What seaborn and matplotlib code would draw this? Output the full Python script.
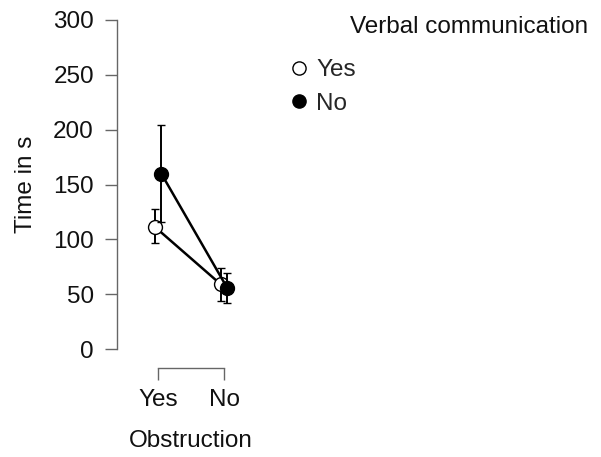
import numpy as np
import pandas as pd
import matplotlib
matplotlib.use("Agg")
import matplotlib.pyplot as plt
import seaborn as sns

obstruction = ["Yes", "No"]
verbal = ["Yes", "No"]
mean_yes = [111.5, 59.0]     # verbal communication: Yes
mean_no = [160.0, 55.5]      # verbal communication: No
lo_yes = [96.5, 44.0]
hi_yes = [127.5, 74.0]
lo_no = [116.0, 42.0]
hi_no = [204.0, 69.5]
yticks = [0, 50, 100, 150, 200, 250, 300]

sns.set_theme(style="white")
plt.rcParams["font.family"] = ["Liberation Sans", "DejaVu Sans"]

FS = 17.5

df = pd.DataFrame({
    "Obstruction": obstruction * 2,
    "Verbal": [verbal[0]] * 2 + [verbal[1]] * 2,
    "Time": mean_yes + mean_no,
})

fig = plt.figure(figsize=(6.01, 4.57), dpi=100)
W, H = 601, 457
ax = fig.add_axes([117 / W, 1 - 349 / H, (265 - 117) / W, (349 - 20) / H])

sns.pointplot(data=df, x="Obstruction", y="Time", hue="Verbal",
              order=obstruction, hue_order=verbal,
              palette=["white", "black"], dodge=0.1, errorbar=None,
              markers="o", linestyles="-", ax=ax, legend=False,
              markersize=10, linewidth=1.8)

lines = [l for l in ax.lines if len(l.get_xdata()) == 2]
los = [lo_yes, lo_no]
his = [hi_yes, hi_no]
means = [mean_yes, mean_no]
for i, ln in enumerate(lines):
    ln.set_color("black")
    ln.set_markeredgecolor("black")
    ln.set_markerfacecolor(["white", "black"][i])
    ln.set_markeredgewidth(1.0)
    ln.set_zorder(3 + 2 * i)
    xs = ln.get_xdata()
    m = np.array(means[i])
    ax.errorbar(xs, m, yerr=[m - np.array(los[i]), np.array(his[i]) - m],
                fmt="none", ecolor="black", elinewidth=1.4, capsize=3,
                capthick=1.0, zorder=2 + 2 * i)

ax.set_xlim(-0.62, 1.62)
ax.set_ylim(0, 300)
ax.set_yticks(yticks)
ax.set_yticklabels([str(t) for t in yticks])
for s in ["top", "right"]:
    ax.spines[s].set_visible(False)
ax.spines["left"].set_bounds(0, 300)
ax.spines["bottom"].set_bounds(0, 1)
ax.spines["bottom"].set_position(("outward", 14))
for s in ["left", "bottom"]:
    ax.spines[s].set_color("#666666")
    ax.spines[s].set_linewidth(1.0)
ax.tick_params(axis="both", which="both", length=8.6, width=1.0,
               color="#666666", labelsize=FS, labelcolor="#111111",
               left=True, bottom=True, pad=8)
ax.tick_params(axis="x", pad=6.5)
ax.set_xlabel("Obstruction", fontsize=FS, labelpad=13.5, color="#111111")
ax.set_ylabel("Time in s", fontsize=FS, labelpad=12, color="#111111")
ax.grid(False)

h_yes = plt.Line2D([], [], marker="o", color="black", markerfacecolor="white",
                   linestyle="none", markersize=9.5, markeredgewidth=1.0)
h_no = plt.Line2D([], [], marker="o", color="black", markerfacecolor="black",
                  linestyle="none", markersize=9.5, markeredgewidth=1.0)
fig.legend([h_yes, h_no], verbal, loc="upper left",
           bbox_to_anchor=(280 / W, 1 - 52 / H), frameon=False, fontsize=FS,
           handletextpad=0.2, labelspacing=0.48, handlelength=1.0,
           borderaxespad=0, borderpad=0.3)
fig.text(350 / W, 1 - 27 / H, "Verbal communication", fontsize=FS,
         va="center", ha="left", color="#111111")

fig.savefig("out.png", dpi=100)
